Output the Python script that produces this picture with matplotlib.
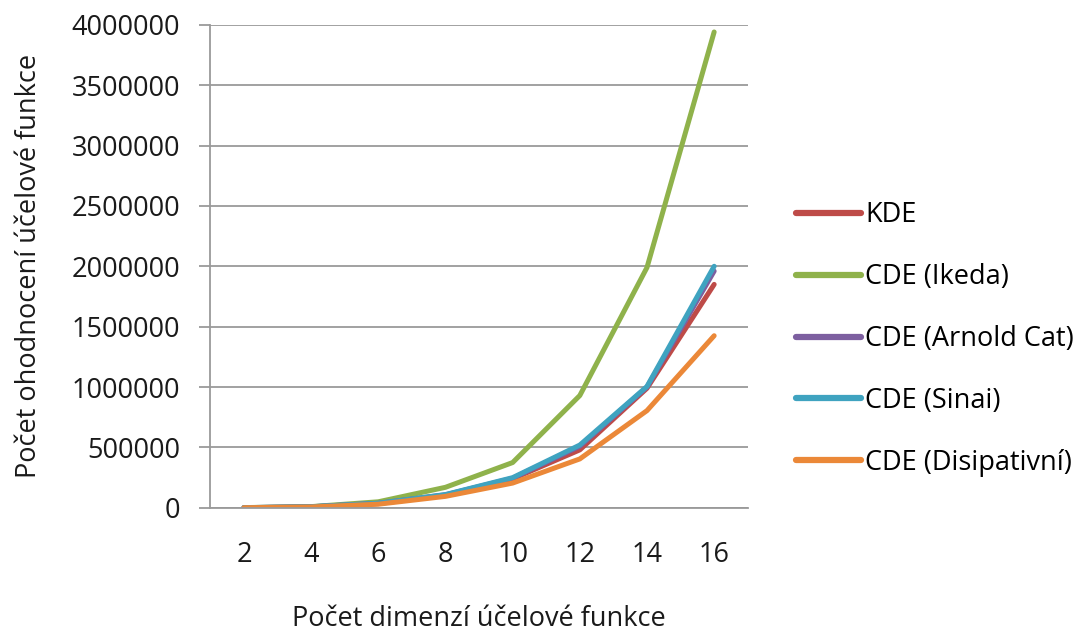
import matplotlib
matplotlib.use("Agg")
import matplotlib.pyplot as plt

dims = ["2", "4", "6", "8", "10", "12", "14", "16"]
kde = [1000, 8000, 35000, 105000, 240000, 480000, 990000, 1850000]
ikeda = [2000, 10000, 50000, 170000, 375000, 930000, 1990000, 3940000]
arnold = [1500, 9000, 38000, 108000, 245000, 510000, 1000000, 1960000]
sinai = [1500, 9000, 38000, 110000, 250000, 520000, 1005000, 2000000]
disip = [1000, 7000, 30000, 95000, 205000, 405000, 805000, 1425000]

series = [
    ("KDE", kde, "#BE4B48"),
    ("CDE (Ikeda)", ikeda, "#8FB24B"),
    ("CDE (Arnold Cat)", arnold, "#7D5FA0"),
    ("CDE (Sinai)", sinai, "#3FA3C0"),
    ("CDE (Disipativní)", disip, "#EB8838"),
]

plt.rcParams['font.family'] = ['Open Sans', 'DejaVu Sans']
fs = 19.5

fig = plt.figure(figsize=(10.9, 6.34), dpi=100)
ax = fig.add_axes([0.193, 0.199, 0.493, 0.762])

x = list(range(len(dims)))
for name, vals, col in series:
    ax.plot(x, vals, color=col, lw=3.6, label=name, solid_capstyle='round')

ax.set_xlim(-0.5, len(dims) - 0.5)
ax.set_ylim(0, 4000000)
ax.set_yticks(range(0, 4000001, 500000))
ax.set_yticklabels([str(v) for v in range(0, 4000001, 500000)])
ax.set_xticks(x)
ax.set_xticklabels(dims)
ax.yaxis.grid(True, color="#9A9A9A", lw=1.3)
ax.set_axisbelow(True)
for s in ["top", "right"]:
    ax.spines[s].set_visible(False)
ax.spines["left"].set_color("#9A9A9A")
ax.spines["bottom"].set_color("#9A9A9A")
ax.spines["left"].set_linewidth(1.3)
ax.spines["bottom"].set_linewidth(1.3)
ax.tick_params(axis='y', length=8, color="#9A9A9A", width=1.3, labelsize=fs, pad=14, labelcolor="#1a1a1a")
ax.tick_params(axis='x', length=0, labelsize=fs, pad=24, labelcolor="#1a1a1a")

ax.set_xlabel("Počet dimenzí účelové funkce", fontsize=fs, labelpad=26, color="#1a1a1a")
ax.set_ylabel("Počet ohodnocení účelové funkce", fontsize=fs, labelpad=20, color="#1a1a1a")

leg = ax.legend(loc="center left", bbox_to_anchor=(796 / 1090, 1 - 339 / 634),
                bbox_transform=fig.transFigure, frameon=False, fontsize=fs,
                handlelength=2.4, handletextpad=0.15, labelspacing=1.25, borderpad=0, borderaxespad=0)
for h in leg.get_lines():
    h.set_linewidth(4.5)

fig.savefig("out.png", dpi=100)
